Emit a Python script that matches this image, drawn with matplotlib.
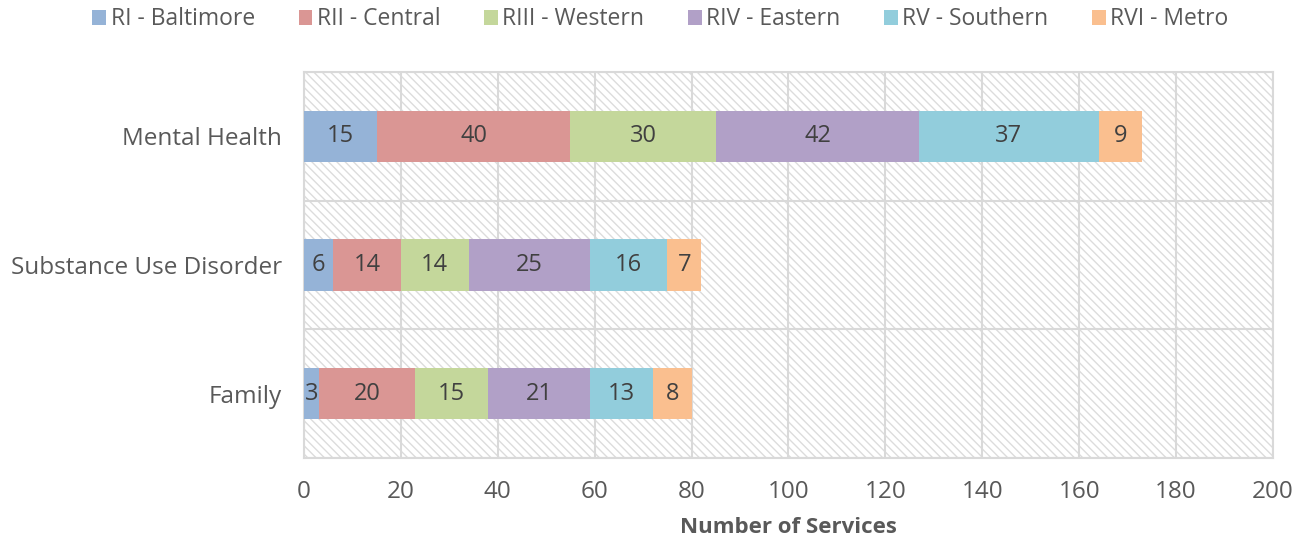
import numpy as np
import matplotlib.pyplot as plt

# --- Data ---
categories = ["Mental Health", "Substance Use Disorder", "Family"]
regions = ["RI - Baltimore", "RII - Central", "RIII - Western",
           "RIV - Eastern", "RV - Southern", "RVI - Metro"]
baltimore = [15, 6, 3]
central = [40, 14, 20]
western = [30, 14, 15]
eastern = [42, 25, 21]
southern = [37, 16, 13]
metro = [9, 7, 8]
series = [baltimore, central, western, eastern, southern, metro]
colors = ["#95B3D7", "#DA9694", "#C4D79B", "#B1A0C7", "#92CDDC", "#FABF8F"]

# --- Style ---
plt.rcParams['font.family'] = ['Open Sans', 'DejaVu Sans']
plt.rcParams['hatch.color'] = '#dcdcdc'
plt.rcParams['hatch.linewidth'] = 1.0
text_color = '#595959'
grid_color = '#d9d9d9'

fig = plt.figure(figsize=(13.08, 5.39), dpi=100)
ax = fig.add_axes([0.2324, 0.1503, 0.7408, 0.7161])

# hatched plot area background
ax.patch.set_facecolor('white')
ax.patch.set_hatch('\\\\\\\\')
ax.patch.set_edgecolor('#dcdcdc')
ax.patch.set_linewidth(0)

y = np.arange(len(categories))
left = np.zeros(len(categories))
for name, vals, col in zip(regions, series, colors):
    bars = ax.barh(y, vals, left=left, height=0.4, color=col, label=name, zorder=3)
    ax.bar_label(bars, labels=[str(v) for v in vals], label_type='center',
                 color='#404040', fontsize=17, zorder=4)
    left += np.array(vals)

ax.set_xlim(0, 200)
ax.set_ylim(len(categories) - 0.5, -0.5)
ax.set_xticks(np.arange(0, 201, 20))
ax.set_yticks(y)
ax.set_yticklabels(categories)
ax.set_yticks(np.arange(-0.5, len(categories), 1), minor=True)

ax.grid(axis='x', which='major', color=grid_color, linewidth=1.5, zorder=1)
ax.grid(axis='y', which='minor', color=grid_color, linewidth=1.5, zorder=1)
ax.set_axisbelow(True)
ax.tick_params(axis='both', which='both', length=0, labelsize=17.5, labelcolor=text_color)
ax.tick_params(axis='x', pad=16)
ax.tick_params(axis='y', pad=16)

for s in ax.spines.values():
    s.set_color(grid_color)
    s.set_linewidth(1.5)

ax.set_xlabel("Number of Services", fontsize=16, fontweight='bold', color=text_color, labelpad=9)

fig.legend(loc='center', bbox_to_anchor=(0.505, 0.964), ncol=6, frameon=False,
           fontsize=16.5, labelcolor=text_color, handlelength=0.6, handleheight=0.6,
           handletextpad=0.2, columnspacing=1.9)

fig.savefig("out.png", dpi=100)
